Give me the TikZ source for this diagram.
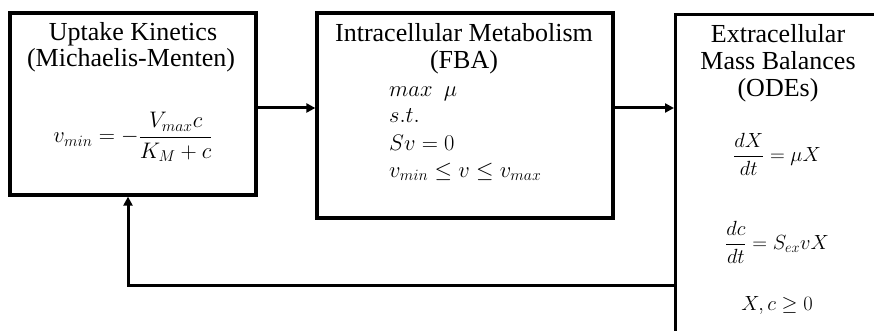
\RequirePackage{fix-cm}
\documentclass[tikz,border=0pt]{standalone}
\usepackage{fontspec}
\setmainfont{Liberation Serif}
\usetikzlibrary{arrows.meta}
\begin{document}
\begin{tikzpicture}[x=1pt,y=-1pt,
  box/.style={draw, line width=3.3pt, rectangle, inner sep=0pt},
  arr/.style={line width=3pt, line join=miter, -{Triangle[length=9pt,width=9pt]}},
  lbl/.style={inner sep=0pt, font=\fontsize{26}{27}\selectfont, align=center},
  eqn/.style={inner sep=0pt, font=\fontsize{22.5}{26}\selectfont},
  eqr/.style={inner sep=0pt, font=\fontsize{20.5}{24}\selectfont},
  eqline/.style={inner sep=0pt, font=\fontsize{22.5}{26}\selectfont, anchor=base west, text height=14pt, text depth=5pt}]
\useasboundingbox (0,0) rectangle (874,331);
\clip (0,0) rectangle (874,331);
% boxes
\node[box, minimum width=246pt, minimum height=182pt] (uk) at (133,104) {};
\node[box, minimum width=296pt, minimum height=205pt] (fba) at (465,115.5) {};
\node[box, minimum width=240pt, minimum height=360pt, anchor=north west] (ode) at (674,13) {};
% texts box 1
\node[lbl, anchor=base] (t1a) at (133,41) {Uptake Kinetics};
\node[lbl, anchor=base] (t1b) at (131,67) {(Michaelis-Menten)};
\node[eqn] (e1) at (133,137) {$\displaystyle v_{min} = -\frac{V_{max}c}{K_M + c}$};
% texts box 2
\node[lbl, anchor=base] (t2a) at (464,42) {Intracellular Metabolism};
\node[lbl, anchor=base] (t2b) at (464,69) {(FBA)};
\node[eqline] (e2a) at (389,97) {$max\ \ \mu$};
\node[eqline] (e2b) at (389,123) {$s.t.$};
\node[eqline] (e2c) at (389,150) {$Sv = 0$};
\node[eqline] (e2d) at (389,177) {$v_{min} \le v \le v_{max}$};
% texts box 3
\node[lbl, anchor=base] (t3a) at (778,43) {Extracellular};
\node[lbl, anchor=base] (t3b) at (778,70) {Mass Balances};
\node[lbl, anchor=base] (t3c) at (778,97) {(ODEs)};
\node[eqr] (e3a) at (777,154) {$\displaystyle \frac{dX}{dt} = \mu X$};
\node[eqr] (e3b) at (777,242) {$\displaystyle \frac{dc}{dt} = S_{ex} v X$};
\node[eqr, anchor=base] (e3c) at (777,310) {$X, c \ge 0$};
% connectors
\coordinate (ya) at (0,108);
\coordinate (fb) at (128,285);
\draw[arr] (uk.east |- ya) -- (fba.west |- ya);
\draw[arr] (fba.east |- ya) -- (ode.west |- ya);
\draw[arr] (ode.west |- fb) -- (fb) -- (uk.south -| fb);
\end{tikzpicture}
\end{document}
